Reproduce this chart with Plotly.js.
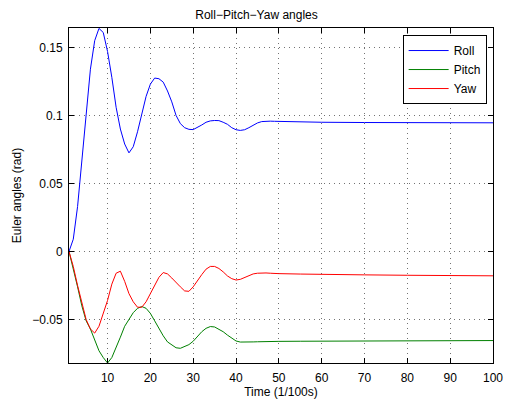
<!DOCTYPE html>
<html>
<head>
<meta charset="utf-8">
<script src="https://cdn.plot.ly/plotly-3.0.1.min.js"></script>
<style>html,body{margin:0;padding:0;background:#fff;}#chart{width:513px;height:402px;}</style>
</head>
<body>
<div id="chart"></div>
<script>
// Time samples (1/100 s)
const timeRoll = [1,2,3,4,5,6,7,8,9,10,11,12,13,14,15,16,17,18,19,20,21,22,23,24,25,26,27,28,29,30,31,32,33,34,35,36,37,38,39,40,41,42,43,44,45,46,47,48,49,50,55,60,70,80,90,100];
const roll = [0,0.009,0.033,0.066,0.102,0.134,0.155,0.164,0.161,0.147,0.128,0.106,0.090,0.079,0.0725,0.077,0.088,0.100,0.114,0.123,0.1275,0.127,0.1245,0.118,0.110,0.100,0.094,0.091,0.0898,0.0896,0.091,0.093,0.095,0.096,0.0963,0.0962,0.095,0.0935,0.091,0.0895,0.089,0.0895,0.091,0.093,0.0945,0.0955,0.0958,0.0958,0.0957,0.0956,0.0952,0.095,0.0948,0.0947,0.0946,0.0946];

const timePY = [1,2,3,4,5,6,7,8,9,10,11,12,13,14,15,16,17,18,19,20,21,22,23,24,25,26,27,28,29,30,31,32,33,34,35,36,37,38,39,40,41,42,43,44,45,46,47,48,49,50,55,60,70,80,90,100];
const pitch = [0,-0.012,-0.026,-0.040,-0.051,-0.057,-0.065,-0.073,-0.078,-0.082,-0.078,-0.071,-0.063,-0.055,-0.050,-0.045,-0.0418,-0.0405,-0.0418,-0.0455,-0.051,-0.057,-0.062,-0.0665,-0.069,-0.0708,-0.0712,-0.070,-0.0685,-0.066,-0.0625,-0.059,-0.0565,-0.0552,-0.0555,-0.057,-0.059,-0.0615,-0.064,-0.0658,-0.0666,-0.0667,-0.0666,-0.0665,-0.0664,-0.0663,-0.0663,-0.0662,-0.0662,-0.0661,-0.066,-0.0659,-0.0657,-0.0656,-0.0655,-0.0655];
const yaw = [0,-0.011,-0.025,-0.038,-0.050,-0.057,-0.060,-0.055,-0.046,-0.036,-0.024,-0.016,-0.0145,-0.022,-0.031,-0.037,-0.041,-0.041,-0.037,-0.031,-0.024,-0.019,-0.0155,-0.0165,-0.0195,-0.023,-0.026,-0.029,-0.0293,-0.026,-0.021,-0.017,-0.013,-0.011,-0.011,-0.0125,-0.015,-0.018,-0.020,-0.021,-0.0205,-0.019,-0.0175,-0.0165,-0.016,-0.0158,-0.0158,-0.016,-0.0162,-0.0163,-0.0166,-0.0169,-0.0172,-0.0175,-0.0177,-0.0179];

const seriesNames = ["Roll","Pitch","Yaw"];
const xTickVals = [10,20,30,40,50,60,70,80,90,100];
const xTickText = ["10","20","30","40","50","60","70","80","90","100"];
const yTickVals = [-0.05,0,0.05,0.1,0.15];
const yTickText = ["\u22120.05","0","0.05","0.1","0.15"];

const font = {family:"Liberation Sans, Arial, Helvetica, sans-serif", size:12, color:"#000"};

const traces = [
  {x:timeRoll, y:roll, name:seriesNames[0], mode:"lines", line:{color:"#0000ff", width:1}},
  {x:timePY, y:pitch, name:seriesNames[1], mode:"lines", line:{color:"#008000", width:1}},
  {x:timePY, y:yaw, name:seriesNames[2], mode:"lines", line:{color:"#ff0000", width:1}}
];

const axisCommon = {
  showline:true, linecolor:"#000", linewidth:1, mirror:"ticks",
  ticks:"inside", ticklen:5, tickcolor:"#000", tickwidth:1,
  showgrid:true, gridcolor:"rgba(0,0,0,0.55)", griddash:"1px,4px", gridwidth:1,
  zeroline:false, tickfont:font
};

const layout = {
  width:513, height:402,
  margin:{l:69, r:20, t:28, b:39},
  paper_bgcolor:"#fff", plot_bgcolor:"#fff",
  font:font,
  title:{text:"Roll\u2212Pitch\u2212Yaw angles", font:font, x:0.5, xanchor:"center", y:0.962, yanchor:"middle"},
  xaxis:Object.assign({}, axisCommon, {
    range:[1,100], tickvals:xTickVals, ticktext:xTickText, ticklabelstandoff:4,
    title:{text:"Time (1/100s)", font:font, standoff:3}
  }),
  yaxis:Object.assign({}, axisCommon, {
    range:[-0.082,0.1643], tickvals:yTickVals, ticktext:yTickText, ticklabelstandoff:3,
    title:{text:"Euler angles (rad)", font:font, standoff:8}
  }),
  showlegend:true,
  legend:{x:0.985, y:0.979, xanchor:"right", yanchor:"top", bgcolor:"#fff",
    bordercolor:"#000", borderwidth:1, font:font, tracegroupgap:0, itemwidth:40}
};

Plotly.newPlot("chart", traces, layout, {staticPlot:true, displayModeBar:false});
</script>
</body>
</html>
